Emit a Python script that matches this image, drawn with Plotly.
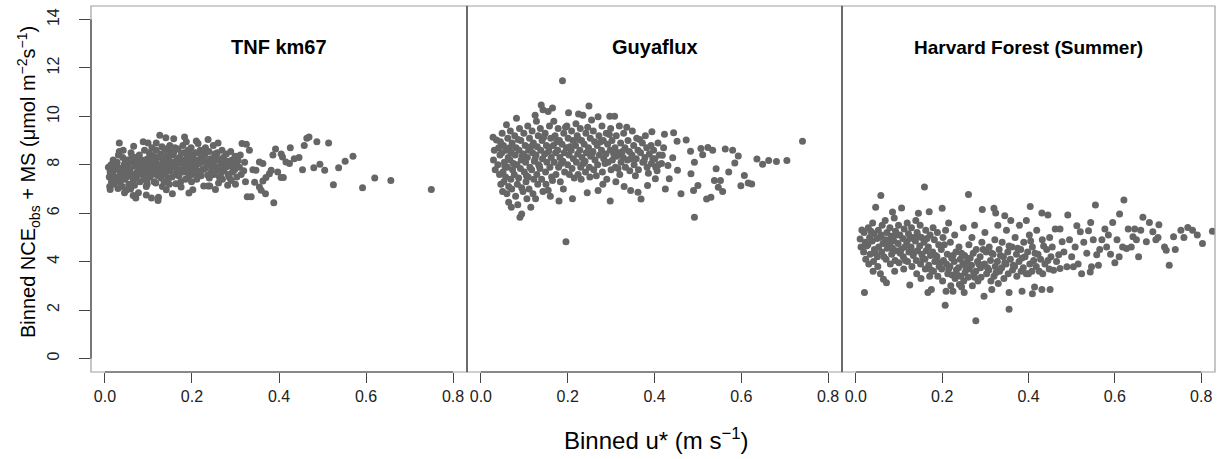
import plotly.graph_objects as go

# ---------------- data ----------------
panel_titles = ["TNF km67", "Guyaflux", "Harvard Forest (Summer)"]
x_tick_vals = [0.0, 0.2, 0.4, 0.6, 0.8]
x_tick_text = ["0.0", "0.2", "0.4", "0.6", "0.8"]
y_tick_vals = [0, 2, 4, 6, 8, 10, 12, 14]

tnf_points = [
    (0.008,7.9),(0.012,7.7),(0.010,7.5),(0.015,7.3),(0.011,7.1),(0.014,8.0),(0.012,6.98),
    (0.019,8.2),(0.022,7.8),(0.018,7.6),(0.024,7.4),(0.021,7.2),(0.025,8.05),(0.020,7.9),
    (0.033,8.9),(0.031,8.4),(0.028,8.1),(0.035,7.7),(0.029,7.5),(0.034,7.3),(0.030,7.02),(0.036,7.85),
    (0.041,8.3),(0.044,8.0),(0.039,7.8),(0.043,7.6),(0.046,7.4),(0.040,7.1),(0.042,8.6),
    (0.051,8.2),(0.048,7.9),(0.054,7.7),(0.050,7.5),(0.055,7.2),(0.049,6.95),(0.053,8.05),
    (0.060,8.5),(0.063,8.1),(0.058,7.8),(0.062,7.6),(0.065,7.3),(0.059,7.0),(0.065,6.73),
    (0.066,8.77),(0.071,8.3),(0.069,7.95),(0.074,7.7),(0.072,7.45),(0.068,7.15),(0.071,6.63),(0.075,8.1),
    (0.079,8.4),(0.082,8.1),(0.078,7.85),(0.084,7.6),(0.081,7.3),(0.077,6.85),(0.085,8.2),
    (0.088,8.95),(0.091,8.6),(0.094,8.2),(0.089,7.9),(0.093,7.65),(0.090,7.4),(0.095,7.1),(0.092,8.0),
    (0.099,8.9),(0.102,8.5),(0.098,8.25),(0.104,8.0),(0.101,7.75),(0.103,7.5),(0.097,7.2),(0.105,7.9),
    (0.108,8.7),(0.112,8.35),(0.110,8.1),(0.114,7.85),(0.109,7.6),(0.113,7.3),(0.107,6.63),(0.115,8.0),
    (0.118,8.6),(0.121,8.3),(0.119,8.05),(0.124,7.8),(0.122,7.55),(0.117,7.25),(0.122,6.52),(0.123,6.66),(0.125,7.95),
    (0.126,9.22),(0.131,8.75),(0.128,8.45),(0.133,8.2),(0.130,7.95),(0.134,7.7),(0.129,7.45),(0.132,7.1),
    (0.140,9.12),(0.138,8.6),(0.142,8.35),(0.137,8.1),(0.143,7.85),(0.139,7.6),(0.141,6.97),(0.144,8.0),(0.136,7.3),
    (0.149,8.8),(0.152,8.5),(0.147,8.25),(0.153,8.0),(0.150,7.75),(0.154,7.5),(0.148,7.2),(0.151,8.1),
    (0.158,9.08),(0.161,8.7),(0.157,8.4),(0.163,8.15),(0.160,7.9),(0.164,7.65),(0.163,7.22),(0.159,8.55),
    (0.168,8.65),(0.171,8.3),(0.167,8.05),(0.173,7.8),(0.170,7.55),(0.174,7.3),(0.172,8.2),
    (0.183,9.15),(0.179,8.8),(0.182,8.5),(0.178,8.2),(0.184,7.95),(0.181,7.7),(0.185,7.4),(0.177,8.05),
    (0.187,8.95),(0.191,8.6),(0.189,8.3),(0.194,8.0),(0.190,7.75),(0.192,7.5),(0.193,6.83),(0.188,8.15),
    (0.198,8.7),(0.201,8.4),(0.197,8.1),(0.203,7.85),(0.200,7.6),(0.202,6.97),(0.204,8.25),(0.199,7.3),
    (0.210,8.98),(0.214,8.88),(0.208,8.5),(0.212,8.2),(0.209,7.95),(0.213,7.65),(0.211,7.4),
    (0.219,8.6),(0.222,8.3),(0.218,8.05),(0.224,7.8),(0.221,7.55),(0.227,7.12),(0.220,8.45),
    (0.237,9.04),(0.231,8.7),(0.229,8.4),(0.233,8.1),(0.230,7.85),(0.237,7.12),(0.234,8.0),
    (0.239,8.55),(0.242,8.25),(0.238,7.95),(0.244,7.7),(0.241,7.12),(0.243,8.1),(0.240,7.45),
    (0.249,8.8),(0.252,8.45),(0.248,8.15),(0.253,7.9),(0.250,7.6),(0.254,6.98),(0.251,8.0),
    (0.260,8.9),(0.258,8.5),(0.262,8.2),(0.259,7.8),(0.263,7.5),(0.261,7.25),
    (0.269,8.6),(0.272,8.3),(0.268,8.0),(0.273,7.75),(0.270,7.4),
    (0.279,8.45),(0.282,8.15),(0.278,7.9),(0.283,7.6),(0.282,7.15),
    (0.289,8.55),(0.292,8.2),(0.288,7.95),(0.293,7.7),(0.290,7.35),
    (0.299,8.35),(0.302,8.05),(0.298,7.8),(0.303,7.5),(0.300,7.2),
    (0.315,8.88),(0.311,8.4),(0.309,7.9),(0.313,7.6),
    (0.325,8.85),(0.321,8.1),(0.319,7.75),(0.323,7.3),
    (0.015,7.62),(0.027,7.93),(0.037,7.37),(0.047,8.13),(0.056,7.84),(0.064,7.46),(0.073,8.27),
    (0.086,7.73),(0.096,7.33),(0.106,8.17),(0.116,7.68),(0.127,8.33),(0.135,7.88),(0.146,7.43),
    (0.156,8.03),(0.166,7.58),(0.176,8.48),(0.186,7.83),(0.196,7.98),(0.206,8.08),(0.216,7.73),
    (0.226,8.23),(0.236,7.58),(0.246,7.88),(0.256,8.33),(0.266,7.63),(0.276,8.08),(0.286,7.48),
    (0.296,7.93),(0.306,8.18),(0.062,8.35),(0.118,8.9),(0.155,6.8),(0.095,6.75),(0.045,6.85),
    (0.175,7.08),(0.265,7.95),(0.125,7.55),(0.084,7.98),(0.033,8.55),(0.228,8.63),(0.195,8.45),
    (0.145,8.68),(0.105,8.43),
    (0.327,6.68),(0.332,8.6),(0.336,6.68),(0.340,7.8),(0.344,7.28),(0.347,7.77),(0.355,8.12),
    (0.355,7.08),(0.359,6.95),(0.363,8.05),(0.363,7.33),(0.369,6.8),(0.370,7.47),(0.378,7.63),
    (0.382,7.77),(0.386,8.4),(0.388,6.43),(0.392,8.65),(0.397,7.7),(0.405,8.45),(0.405,7.48),
    (0.408,8.32),(0.410,7.48),(0.416,8.12),(0.424,8.05),(0.426,8.7),(0.435,8.25),(0.446,8.3),
    (0.454,7.8),(0.458,8.8),(0.464,9.1),(0.469,9.15),(0.480,7.88),(0.487,8.95),(0.494,8.02),
    (0.505,7.77),(0.514,8.9),(0.525,7.18),(0.537,7.88),(0.552,8.15),(0.570,8.35),(0.592,7.05),
    (0.620,7.45),(0.657,7.35),(0.750,6.98),
]

guy_points = [
    (0.028,9.14),(0.036,9.02),(0.031,8.6),(0.029,8.2),(0.033,7.8),
    (0.041,8.7),(0.044,8.4),(0.039,8.0),(0.043,7.6),(0.046,7.2),
    (0.049,9.3),(0.052,8.8),(0.048,8.5),(0.054,8.1),(0.051,7.7),(0.053,7.3),(0.050,6.9),
    (0.059,9.65),(0.062,9.1),(0.058,8.6),(0.063,8.3),(0.061,7.9),(0.057,7.5),(0.064,7.1),(0.060,6.8),
    (0.068,9.4),(0.072,8.9),(0.070,8.5),(0.067,8.2),(0.073,7.8),(0.069,7.4),(0.071,7.0),(0.070,6.25),
    (0.082,9.92),(0.078,9.2),(0.081,8.7),(0.079,8.4),(0.083,8.0),(0.077,7.6),(0.084,7.2),(0.080,6.7),
    (0.089,9.5),(0.092,9.0),(0.088,8.6),(0.093,8.2),(0.091,7.85),(0.087,7.45),(0.094,7.05),(0.094,5.97),(0.090,5.83),
    (0.099,9.3),(0.102,8.8),(0.098,8.45),(0.103,8.1),(0.100,7.7),(0.104,7.3),(0.097,6.9),
    (0.108,9.6),(0.112,9.1),(0.110,8.6),(0.107,8.3),(0.113,7.9),(0.109,7.5),(0.111,7.0),(0.106,6.6),
    (0.118,9.4),(0.121,8.9),(0.119,8.5),(0.123,8.15),(0.117,7.8),(0.122,7.4),(0.120,6.8),
    (0.128,9.8),(0.132,9.2),(0.130,8.75),(0.127,8.4),(0.133,8.0),(0.129,7.6),(0.131,7.2),(0.126,6.6),
    (0.139,10.47),(0.137,9.5),(0.141,9.0),(0.138,8.6),(0.142,8.25),(0.136,7.85),(0.140,7.4),(0.143,6.9),
    (0.143,10.27),(0.148,9.3),(0.151,8.8),(0.147,8.45),(0.152,8.1),(0.149,7.7),(0.150,7.2),
    (0.155,10.2),(0.158,9.6),(0.161,9.1),(0.157,8.7),(0.162,8.3),(0.159,7.9),(0.163,7.5),(0.160,6.7),
    (0.168,9.8),(0.171,9.2),(0.167,8.8),(0.172,8.5),(0.169,8.1),(0.173,7.6),
    (0.178,9.5),(0.181,9.0),(0.177,8.6),(0.182,8.3),(0.179,7.9),(0.183,7.3),(0.180,6.5),
    (0.188,11.47),(0.191,9.3),(0.187,8.85),(0.192,8.5),(0.189,8.15),(0.193,7.7),(0.190,7.0),
    (0.202,10.15),(0.198,9.6),(0.201,9.1),(0.197,8.7),(0.203,8.4),(0.200,8.0),(0.204,7.6),(0.196,4.82),
    (0.209,9.4),(0.212,9.0),(0.208,8.6),(0.213,8.25),(0.210,7.85),(0.211,6.6),
    (0.219,9.7),(0.222,9.2),(0.218,8.8),(0.223,8.45),(0.220,8.1),(0.224,7.6),
    (0.229,9.5),(0.232,9.0),(0.228,8.6),(0.233,8.3),(0.230,7.9),(0.231,7.4),
    (0.235,10.05),(0.242,9.3),(0.238,8.85),(0.243,8.5),(0.240,8.15),(0.241,7.7),
    (0.249,10.43),(0.255,9.85),(0.252,9.1),(0.248,8.7),(0.253,8.35),(0.250,7.9),(0.251,7.5),
    (0.259,9.4),(0.262,8.95),(0.258,8.55),(0.263,8.2),(0.260,7.8),
    (0.270,9.98),(0.272,9.2),(0.268,8.8),(0.273,8.4),(0.269,8.0),(0.270,6.94),
    (0.279,9.6),(0.282,9.0),(0.278,8.6),(0.283,8.25),(0.280,7.7),(0.281,7.2),
    (0.289,9.3),(0.292,8.85),(0.288,8.45),(0.293,8.1),(0.290,7.4),
    (0.297,10.01),(0.299,9.5),(0.302,9.0),(0.298,8.6),(0.303,8.2),(0.300,7.8),(0.298,6.5),
    (0.308,10.01),(0.312,9.2),(0.309,8.7),(0.313,8.35),(0.310,7.9),(0.311,7.3),
    (0.319,9.6),(0.322,8.9),(0.318,8.5),(0.323,8.1),(0.320,7.6),
    (0.329,9.3),(0.332,8.7),(0.328,8.3),(0.333,7.9),(0.330,7.1),
    (0.339,9.0),(0.342,8.55),(0.338,8.2),(0.343,7.75),
    (0.345,6.94),(0.349,9.4),(0.352,8.8),(0.348,8.4),(0.353,8.0),
    (0.359,9.1),(0.362,8.6),(0.358,8.25),(0.363,7.8),(0.362,6.87),
    (0.369,6.59),(0.372,8.9),(0.368,8.5),(0.373,8.1),
    (0.379,9.2),(0.382,8.7),(0.378,8.3),(0.383,7.9),(0.384,7.14),
    (0.394,9.36),(0.392,8.8),(0.388,8.45),(0.393,8.05),
    (0.398,8.6),(0.401,8.25),(0.403,7.9),(0.402,7.42),
    (0.408,8.9),(0.411,8.4),(0.409,8.0),
    (0.418,8.39),(0.423,9.26),(0.425,7.0),(0.421,8.7),
    (0.045,8.95),(0.055,7.95),(0.066,8.7),(0.075,8.05),(0.086,9.05),(0.095,8.35),(0.105,7.55),
    (0.115,8.75),(0.125,8.25),(0.135,7.95),(0.145,9.15),(0.156,8.55),(0.165,7.35),(0.175,8.95),
    (0.185,8.05),(0.195,9.55),(0.205,8.75),(0.215,7.45),(0.226,9.05),(0.236,8.05),(0.246,9.55),
    (0.256,8.45),(0.266,7.55),(0.276,8.95),(0.286,8.05),(0.296,9.25),(0.306,8.45),(0.316,7.85),
    (0.326,8.55),(0.336,9.55),(0.346,8.25),(0.356,7.55),(0.366,9.05),(0.376,8.15),(0.386,7.65),
    (0.396,8.25),(0.406,7.75),(0.416,8.05),(0.064,6.45),(0.085,6.35),(0.115,6.25),(0.155,6.95),
    (0.245,6.85),(0.125,10.05),(0.165,10.35),(0.225,10.1),
    (0.431,7.97),(0.434,7.42),(0.442,8.29),(0.444,9.32),(0.452,8.97),(0.453,7.77),(0.461,6.8),
    (0.473,9.02),(0.483,8.56),(0.484,7.63),(0.490,6.94),(0.492,8.11),(0.492,5.83),(0.500,7.14),
    (0.507,8.67),(0.511,8.42),(0.520,6.59),(0.523,8.71),(0.530,6.66),(0.534,8.6),(0.538,7.35),
    (0.542,7.84),(0.547,7.07),(0.552,7.35),(0.557,6.9),(0.563,8.65),(0.571,7.7),(0.580,8.6),
    (0.585,8.07),(0.593,8.36),(0.599,7.13),(0.607,7.56),(0.616,7.25),(0.624,7.21),(0.636,8.24),
    (0.649,8.02),(0.663,8.18),(0.681,8.14),(0.705,8.18),(0.741,8.97),
]

hf_points = [
    (0.010,4.93),(0.014,5.31),(0.012,4.6),(0.020,2.72),
    (0.019,5.2),(0.022,4.8),(0.018,4.4),(0.023,4.1),
    (0.029,5.4),(0.032,5.0),(0.028,4.7),(0.033,4.3),(0.030,3.9),
    (0.039,5.6),(0.042,5.15),(0.038,4.85),(0.043,4.5),(0.041,4.0),(0.040,3.6),
    (0.046,6.25),(0.052,5.3),(0.049,4.95),(0.053,4.6),(0.050,4.2),(0.051,3.8),
    (0.058,6.73),(0.061,5.5),(0.059,5.1),(0.063,4.75),(0.060,4.4),(0.064,3.27),(0.057,3.5),
    (0.068,5.7),(0.072,5.2),(0.069,4.9),(0.073,4.55),(0.070,4.1),(0.071,3.13),
    (0.079,5.4),(0.082,5.05),(0.078,4.7),(0.083,4.3),(0.080,3.9),
    (0.089,5.8),(0.092,5.25),(0.088,4.85),(0.093,4.45),(0.091,4.05),(0.090,3.6),
    (0.099,5.5),(0.102,5.1),(0.098,4.75),(0.103,4.35),(0.100,3.95),
    (0.106,6.22),(0.112,5.35),(0.109,4.95),(0.113,4.6),(0.110,4.2),(0.111,3.7),
    (0.119,5.6),(0.122,5.15),(0.118,4.8),(0.123,4.4),(0.120,4.0),(0.125,3.03),
    (0.129,5.4),(0.132,5.0),(0.128,4.6),(0.133,4.25),(0.130,3.8),
    (0.139,5.7),(0.142,5.2),(0.138,4.85),(0.143,4.45),(0.140,4.05),(0.141,3.5),
    (0.149,5.5),(0.152,5.0),(0.148,4.65),(0.153,4.3),(0.150,3.9),(0.151,3.3),
    (0.159,7.08),(0.162,5.3),(0.158,4.8),(0.163,4.45),(0.160,4.1),(0.161,3.7),(0.167,2.72),
    (0.170,6.06),(0.172,5.1),(0.168,4.6),(0.173,4.25),(0.169,3.85),(0.171,3.4),(0.175,2.85),
    (0.179,5.4),(0.182,4.9),(0.178,4.4),(0.183,4.0),(0.180,3.6),
    (0.189,5.2),(0.192,4.7),(0.188,4.2),(0.193,3.8),(0.190,3.4),
    (0.200,6.2),(0.202,5.0),(0.198,4.5),(0.203,4.05),(0.199,3.7),(0.201,3.2),
    (0.208,5.3),(0.212,4.3),(0.210,3.9),(0.213,3.5),(0.209,2.78),(0.207,2.2),
    (0.219,4.8),(0.222,4.15),(0.218,3.8),(0.223,3.45),(0.220,3.0),
    (0.229,5.1),(0.232,4.4),(0.228,4.0),(0.233,3.65),(0.230,3.3),(0.225,2.78),
    (0.239,4.6),(0.242,4.1),(0.238,3.75),(0.243,3.4),(0.240,3.05),
    (0.249,5.4),(0.252,4.25),(0.248,3.9),(0.253,3.55),(0.250,3.2),(0.251,2.72),
    (0.261,6.77),(0.262,4.7),(0.258,4.0),(0.263,3.7),(0.260,3.35),
    (0.269,5.0),(0.272,4.35),(0.268,3.85),(0.273,3.5),(0.270,3.0),
    (0.279,4.5),(0.282,4.0),(0.278,3.6),(0.283,3.2),(0.278,1.56),
    (0.293,6.15),(0.292,4.8),(0.288,4.2),(0.289,3.75),(0.290,3.35),
    (0.299,5.2),(0.302,4.4),(0.298,3.9),(0.303,3.5),(0.297,2.57),
    (0.309,4.6),(0.312,4.05),(0.308,3.65),(0.313,3.2),
    (0.320,6.2),(0.324,6.01),(0.322,4.9),(0.318,4.3),(0.323,3.8),(0.320,3.4),
    (0.329,5.5),(0.332,4.5),(0.328,4.0),(0.333,3.6),(0.330,3.1),
    (0.339,4.8),(0.342,4.2),(0.338,3.75),(0.343,3.3),
    (0.349,5.3),(0.352,4.4),(0.348,3.9),(0.353,3.5),(0.355,2.72),(0.355,2.03),
    (0.359,5.7),(0.362,4.6),(0.358,4.1),(0.363,3.65),
    (0.369,5.0),(0.372,4.3),(0.368,3.8),(0.373,3.4),
    (0.379,5.5),(0.382,4.5),(0.378,4.0),(0.383,3.6),(0.385,2.78),
    (0.389,4.8),(0.392,4.2),(0.388,3.75),
    (0.404,6.28),(0.402,5.1),(0.398,4.4),(0.403,3.9),(0.400,3.5),
    (0.409,4.6),(0.412,4.05),(0.408,3.6),(0.409,2.67),(0.414,2.95),
    (0.419,5.3),(0.422,4.3),(0.418,3.8),
    (0.431,6.01),(0.432,4.9),(0.428,4.1),(0.433,3.5),(0.431,2.85),
    (0.445,5.93),(0.442,4.5),(0.438,3.9),
    (0.449,5.0),(0.452,4.2),(0.448,3.7),(0.450,2.85),
    (0.025,4.65),(0.035,5.25),(0.045,4.35),(0.055,5.0),(0.065,4.2),(0.075,4.85),(0.085,4.55),
    (0.095,5.1),(0.105,4.5),(0.115,4.05),(0.125,4.95),(0.135,4.4),(0.145,5.05),(0.155,4.15),
    (0.165,4.95),(0.175,3.65),(0.185,4.25),(0.195,3.95),(0.205,4.7),(0.215,3.7),(0.225,4.25),
    (0.235,3.45),(0.245,4.35),(0.255,3.75),(0.265,4.15),(0.275,3.35),(0.285,3.9),(0.295,4.5),
    (0.305,3.75),(0.315,4.35),(0.325,3.55),(0.335,4.25),(0.345,3.95),(0.355,4.65),(0.365,3.85),
    (0.375,4.55),(0.385,4.15),(0.395,3.5),(0.405,4.85),(0.415,4.35),(0.425,3.6),(0.435,4.65),
    (0.445,4.05),(0.215,5.6),(0.145,6.0),(0.085,6.05),(0.275,5.5),(0.345,5.9),(0.395,5.7),
    (0.245,2.95),(0.315,2.85),
    (0.455,4.6),(0.465,4.0),(0.482,4.4),(0.495,4.9),(0.500,4.2),(0.508,4.6),(0.515,3.9),
    (0.528,4.8),(0.550,4.9),(0.565,4.5),(0.585,5.1),(0.590,4.3),(0.605,4.9),(0.610,4.2),
    (0.650,4.9),(0.660,5.3),(0.695,4.9),(0.700,5.0),(0.740,4.5),(0.760,5.0),
    (0.458,3.64),(0.462,5.35),(0.470,4.28),(0.473,5.35),(0.473,3.72),(0.478,4.82),(0.489,3.79),
    (0.491,5.93),(0.504,3.79),(0.512,5.48),(0.520,5.23),(0.523,3.5),(0.535,4.35),(0.539,5.28),
    (0.543,3.57),(0.544,5.62),(0.546,3.79),(0.555,6.34),(0.558,4.28),(0.562,3.85),(0.570,4.9),
    (0.577,5.35),(0.581,4.6),(0.595,5.62),(0.600,3.95),(0.611,5.97),(0.618,4.6),(0.621,6.55),
    (0.627,4.54),(0.631,5.35),(0.638,4.6),(0.642,5.03),(0.646,5.35),(0.655,4.2),(0.665,5.83),
    (0.673,4.82),(0.680,5.62),(0.688,5.23),(0.702,5.52),(0.715,4.6),(0.719,4.47),(0.726,3.85),
    (0.736,5.03),(0.753,5.3),(0.769,5.41),(0.780,5.3),(0.791,5.1),(0.803,4.75),(0.826,5.25),
]

# ---------------- figure ----------------
FONT = "Liberation Sans, Arial, Helvetica, sans-serif"
W, H = 1225, 459
L, R, T, B = 91, 10, 6, 87
pw = W - L - R
ph = H - T - B
edges_px = [91, 467, 842, 1215]
doms = [[(edges_px[i] - L) / pw, (edges_px[i + 1] - L) / pw] for i in range(3)]
XR = [-0.032, 0.832]
YR = [-0.56, 14.56]
dot = "rgb(102,102,102)"

fig = go.Figure()
series = [tnf_points, guy_points, hf_points]
axnames = ["x", "x2", "x3"]
for pts, ax in zip(series, axnames):
    fig.add_trace(go.Scatter(
        x=[p[0] for p in pts], y=[p[1] for p in pts],
        mode="markers", xaxis=ax, yaxis="y",
        marker=dict(color=dot, size=7, line=dict(width=0)),
        showlegend=False, hoverinfo="skip",
    ))

layout = dict(
    width=W, height=H,
    margin=dict(l=L, r=R, t=T, b=B, pad=0),
    paper_bgcolor="white", plot_bgcolor="white",
    font=dict(family=FONT, color="#111"),
    yaxis=dict(range=YR, tickvals=y_tick_vals, ticks="outside", ticklen=11,
               tickcolor="#444", tickwidth=1, tickangle=-90, ticklabelstandoff=14,
               tickfont=dict(size=16, color="#222"),
               showgrid=False, zeroline=False, showline=False, anchor="x"),
)
for i, ax in enumerate(["xaxis", "xaxis2", "xaxis3"]):
    layout[ax] = dict(domain=doms[i], range=XR, tickvals=x_tick_vals, ticktext=x_tick_text,
                      ticks="outside", ticklen=10, tickcolor="#444", tickwidth=1,
                      tickfont=dict(size=16, color="#222"),
                      showgrid=False, zeroline=False, showline=False, anchor="y")
fig.update_layout(**layout)

shapes = []
for i in range(3):
    shapes.append(dict(type="rect", xref="paper", yref="paper",
                       x0=doms[i][0], x1=doms[i][1], y0=0, y1=1,
                       line=dict(color="#a0a0a0", width=1.2)))
for i in (1, 2):
    shapes.append(dict(type="line", xref="paper", yref="paper",
                       x0=doms[i][0], x1=doms[i][0], y0=0, y1=1,
                       line=dict(color="#555", width=1.5)))
for ax in axnames:
    shapes.append(dict(type="line", xref=ax, yref="paper",
                       x0=x_tick_vals[0], x1=x_tick_vals[-1], y0=0, y1=0,
                       line=dict(color="#444", width=1.2)))
shapes.append(dict(type="line", xref="paper", yref="y", x0=0, x1=0,
                   y0=y_tick_vals[0], y1=y_tick_vals[-1],
                   line=dict(color="#444", width=1.2)))
fig.update_layout(shapes=shapes)

ann = []
title_sizes = [20, 20, 19]
for i, t in enumerate(panel_titles):
    ann.append(dict(text="<b>%s</b>" % t, xref="x%s domain" % ("" if i == 0 else i + 1),
                    x=0.5, yref="paper", y=(372 - 47) / ph, xanchor="center", yanchor="middle",
                    showarrow=False, font=dict(size=title_sizes[i], color="#000", family=FONT)))
ann.append(dict(text="Binned u* (m s<sup>\u22121</sup>)", xref="paper", yref="paper",
                x=(656 - L) / pw, y=(372 - 439) / ph, xanchor="center", yanchor="middle",
                showarrow=False, font=dict(size=24, color="#000", family=FONT)))
ann.append(dict(text="Binned NCE<sub>obs</sub> + MS (\u03bcmol m<sup>\u22122</sup>s<sup>\u22121</sup>)",
                xref="paper", yref="paper", x=(28 - L) / pw, y=(372 - 182) / ph,
                xanchor="center", yanchor="middle", textangle=-90,
                showarrow=False, font=dict(size=20, color="#000", family=FONT)))
fig.update_layout(annotations=ann)

fig.write_html("out.html")
